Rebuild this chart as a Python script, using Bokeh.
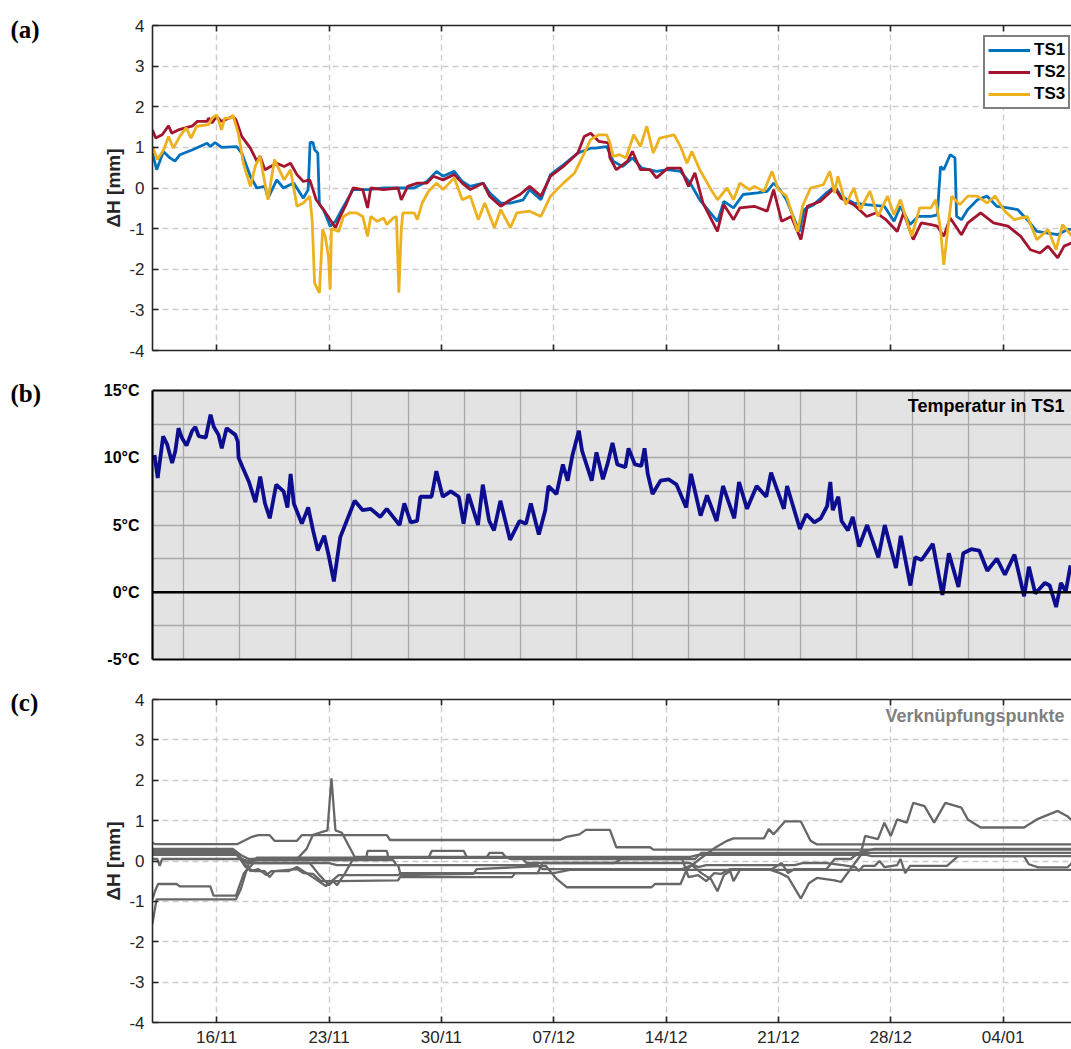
from datetime import datetime, timedelta

from bokeh.plotting import figure
from bokeh.layouts import column, row
from bokeh.core.properties import value
from bokeh.models import (Range1d, FixedTicker, DatetimeAxis, DatetimeTickFormatter,
                          CustomJSTickFormatter, PrintfTickFormatter, Span, Label)
from bokeh.embed import file_html
from bokeh.resources import INLINE

# ---------------------------------------------------------------------------
# Data: time in days after 12/11/2019 00:00, height changes in mm, temperature in °C
# ---------------------------------------------------------------------------
START = datetime(2019, 11, 12)
X_END_DAYS = 57.26

week_ticks = ["2019-11-16", "2019-11-23", "2019-11-30", "2019-12-07",
              "2019-12-14", "2019-12-21", "2019-12-28", "2020-01-04"]
dh_ticks = [-4, -3, -2, -1, 0, 1, 2, 3, 4]
temp_ticks = [-5, 0, 5, 10, 15]
temp_minor_ticks = [-2.5, 2.5, 7.5, 12.5]
temp_grid_days = [1.83 + 3.5 * k for k in range(16)]
panel_tags = ["(a)", "(b)", "(c)"]

ts1_days = [0, 0.26, 0.68, 1.09, 1.4, 1.71, 2.5, 3.4, 3.6, 3.9,
            4.3, 5.25, 5.56, 6.1, 6.5, 7.0, 7.2, 7.74, 8.16, 8.57,
            8.8, 9.4, 9.7, 9.82, 10.0, 10.1, 10.3, 10.4, 10.65, 11.07,
            11.4, 11.8, 12.5, 13.4, 14.4, 15.4, 16.3, 16.7, 17.1, 17.7,
            18.1, 18.8, 19.3, 19.8, 20.6, 21.0, 21.7, 22.3, 23.1, 23.5,
            24.2, 24.8, 25.6, 26.5, 27.3, 27.6, 28.3,
            28.7, 29.3, 29.9, 30.5, 31.4, 32.1, 32.9, 33.5, 34.1, 35.2,
            35.6, 36.2, 36.8, 37.7, 38.3, 38.7, 39.1, 39.5, 40.3, 40.6,
            41.2, 42.0, 42.5, 42.9, 43.7, 44.5, 45.6, 46.2, 46.6, 47.2,
            47.7, 48.5, 48.9, 49.1, 49.3, 49.7, 50.0, 50.1, 50.4, 50.8,
            51.4, 52.0, 52.6, 53.3, 53.9, 54.5, 55.1, 55.8, 56.4, 57.0,
            57.3]
ts1_dh = [0.86, 0.45, 0.9, 0.74, 0.66, 0.82, 0.94, 1.1, 1.02, 1.12,
          1.0, 1.02, 0.86, 0.29, 0.0, 0.04, -0.25, 0.2, 0.0, 0.08,
          0.12, -0.25, -0.04, 1.12, 1.12, 0.94, 0.86, -0.41, -0.53, -0.94,
          -0.82, -0.53, -0.04, -0.04, 0.0, 0.0, 0.0, 0.08, 0.16, 0.41,
          0.29, 0.41, 0.16, 0.04, 0.12, -0.12, -0.37, -0.37, -0.29, -0.04,
          -0.29, 0.33, 0.57, 0.86, 0.98, 0.98, 1.02,
          0.66, 0.53, 0.74, 0.49, 0.41, 0.45, 0.41, 0.12, -0.29, -0.82,
          -0.33, -0.49, -0.16, -0.12, -0.08, 0.12, -0.04, -0.29, -1.07, -0.53,
          -0.41, -0.12, 0.04, -0.2, -0.37, -0.41, -0.45, -0.82, -0.45, -0.9,
          -0.7, -0.7, -0.66, 0.53, 0.45, 0.82, 0.74, -0.7, -0.78, -0.53,
          -0.29, -0.2, -0.45, -0.49, -0.53, -0.78, -1.07, -1.11, -1.15, -1.02,
          -1.02]

ts2_days = [0, 0.2, 0.6, 1.0, 1.2, 1.6, 2.5, 2.8, 3.4, 3.5,
            3.7, 4.0, 4.3, 5.0, 5.2, 5.56, 6.1, 6.5, 6.7, 7.0,
            7.74, 8.2, 8.6, 9.0, 9.4, 9.8, 10.2, 10.65, 11.07, 11.4,
            11.7, 12.1, 12.5, 13.1, 13.4, 13.6, 14.4, 15.3, 15.5, 15.9,
            16.5, 17.1, 17.5, 18.1, 18.8, 19.3, 19.8, 20.6, 21.0, 21.7,
            22.3, 22.9, 23.5, 24.2, 24.8, 25.6, 26.5, 26.9, 27.3, 27.8,
            28.4,
            28.5, 28.9, 29.6, 29.9, 30.4, 31.0, 31.4, 32.1, 32.9, 33.4,
            33.8, 34.3, 35.2, 35.6, 36.2, 36.6, 37.5, 38.3, 38.7, 39.2,
            39.8, 40.4, 40.8, 41.6, 42.5, 42.9, 43.7, 44.5, 45.1, 45.7,
            46.4, 46.8, 47.4, 47.9, 48.5, 48.9, 49.3, 49.7, 50.4, 50.8,
            51.6, 52.4, 53.3, 54.1, 54.7, 55.3, 55.8, 56.4, 56.8, 57.3]
ts2_dh = [1.43, 1.23, 1.31, 1.53, 1.35, 1.43, 1.53, 1.64, 1.64, 1.72,
          1.6, 1.76, 1.64, 1.76, 1.68, 1.27, 0.98, 0.66, 0.78, 0.45,
          0.61, 0.53, 0.61, 0.33, 0.16, 0.2, -0.29, -0.53, -0.78, -0.98,
          -0.7, -0.37, 0.0, -0.04, -0.49, 0.0, -0.04, 0.0, -0.29, 0.04,
          0.12, 0.12, 0.29, 0.2, 0.33, 0.12, -0.04, 0.12, -0.2, -0.45,
          -0.29, -0.16, 0.04, -0.2, 0.29, 0.53, 0.86, 1.27, 1.35, 1.15,
          1.11,
          0.74, 0.45, 0.66, 0.9, 0.45, 0.45, 0.25, 0.49, 0.49, 0.04,
          0.37, -0.37, -1.07, -0.41, -0.78, -0.49, -0.45, -0.57, -0.04, -0.82,
          -0.7, -1.27, -0.45, -0.33, 0.0, -0.25, -0.41, -0.7, -0.61, -0.78,
          -1.07, -0.61, -1.27, -0.86, -0.9, -0.94, -1.19, -0.74, -1.15, -0.86,
          -0.61, -0.86, -0.94, -1.19, -1.52, -1.6, -1.43, -1.72, -1.43, -1.35]

ts3_days = [0, 0.3, 0.7, 1.0, 1.3, 1.7, 2.1, 2.4, 2.75, 3.5,
            3.7, 4.0, 4.3, 4.5, 4.9, 5.0, 5.35, 5.66, 6.1, 6.4,
            6.7, 7.0, 7.2, 7.6, 7.8, 8.2, 8.6, 9.0, 9.4, 9.8,
            9.95, 10.1, 10.4, 10.6, 10.76, 10.96, 11.07, 11.15, 11.6, 11.9,
            12.3, 12.7, 13.1, 13.4, 13.6, 14.0, 14.4, 14.6, 15.0, 15.2,
            15.35, 15.5, 15.6, 16.3, 16.5, 16.8, 17.2, 17.7, 18.1, 18.8,
            19.3, 19.8, 20.3, 20.7, 21.3, 21.7, 22.3, 22.7, 23.5, 24.2,
            24.8, 25.6, 26.3, 26.9, 27.3, 27.8, 28.3,
            28.5, 28.7, 29.1, 29.5, 29.98, 30.4, 30.8, 31.2, 31.6, 32.5,
            32.9, 33.3, 33.6, 34.1, 34.8, 35.2, 35.8, 36.2, 36.6, 37.2,
            37.5, 38.1, 38.6, 39.0, 39.5, 40.2, 40.5, 41.0, 41.8, 42.2,
            42.5, 42.7, 43.2, 43.7, 44.1, 44.7, 45.2, 45.8, 46.2, 46.6,
            47.3, 47.8, 48.5, 48.8, 49.1, 49.3, 49.6, 49.8, 50.3, 50.8,
            51.4, 52.0, 52.5, 53.1, 53.7, 54.5, 55.1, 55.8, 56.3, 56.7,
            57.3]
ts3_dh = [1.02, 0.7, 0.94, 1.27, 0.98, 1.27, 1.48, 1.23, 1.52, 1.56,
          1.72, 1.8, 1.43, 1.72, 1.72, 1.8, 1.35, 0.61, 0.04, 0.53,
          0.78, 0.12, -0.29, 0.7, 0.53, 0.2, 0.45, -0.45, -0.37, -0.2,
          -0.8, -2.34, -2.58, -1.02, -1.19, -1.68, -2.5, -1.0, -1.07, -0.7,
          -0.61, -0.61, -0.7, -1.19, -0.7, -0.82, -0.74, -0.9, -0.74, -0.7,
          -2.58, -1.02, -0.61, -0.61, -0.78, -0.37, -0.08, 0.12, -0.04, 0.25,
          -0.29, -0.2, -0.78, -0.37, -0.98, -0.53, -0.98, -0.61, -0.57, -0.7,
          -0.2, 0.12, 0.37, 0.86, 1.19, 1.31, 1.31,
          1.11, 0.78, 0.82, 0.74, 1.31, 1.02, 1.52, 0.86, 1.23, 1.31,
          1.02, 0.61, 0.9, 0.45, -0.04, -0.29, 0.0, -0.29, 0.12, -0.04,
          0.04, -0.08, 0.41, -0.04, -0.2, -1.07, -0.45, 0.0, 0.08, 0.41,
          -0.12, 0.29, -0.41, 0.0, -0.53, -0.08, -0.7, -0.2, -0.66, -0.29,
          -1.19, -0.49, -0.49, -0.29, -1.02, -1.89, -0.86, -0.2, -0.41, -0.2,
          -0.2, -0.37, -0.2, -0.57, -0.78, -0.7, -1.27, -1.02, -1.52, -0.9,
          -1.19]

temp_days = [0, 0.2, 0.54, 0.79, 1.1, 1.3, 1.5, 1.7, 2.0, 2.35,
             2.55, 2.76, 3.2, 3.5, 3.7, 4.0, 4.2, 4.5, 5.05, 5.2,
             5.25, 5.5, 5.9, 6.3, 6.6, 6.9, 7.2, 7.6, 8.06, 8.3,
             8.5, 8.7, 9.2, 9.6, 9.9, 10.2, 10.6, 10.9, 11.2, 11.6,
             12.0, 12.5, 13.0, 13.5, 14.1, 14.5, 14.9, 15.3, 15.6, 16.0,
             16.4, 16.6, 17.3, 17.6, 18.0, 18.5, 19.0, 19.3, 19.6, 20.2,
             20.5, 20.9, 21.2, 21.6, 22.2, 22.8, 23.2, 23.5, 24.0, 24.4,
             24.6, 25.1, 25.5, 25.8, 26.1, 26.5, 26.7, 27.3, 27.6, 28.0,
             28.3, 28.6, 28.9, 29.4, 29.6, 30.0, 30.4, 30.6, 30.8, 31.1,
             31.6, 32.1, 32.6, 33.2, 33.5, 34.1, 34.5, 35.1, 35.5, 36.2,
             36.5, 37.0, 37.6, 38.2, 38.5, 39.3, 39.5, 40.3, 40.7, 41.2,
             41.6, 42.0, 42.2, 42.35, 42.7, 42.9, 43.3, 43.6, 44.0, 44.5,
             45.2, 45.6, 46.3, 46.6, 47.2, 47.5, 47.9, 48.6, 49.2, 49.6,
             50.2, 50.5, 51.0, 51.5, 52.0, 52.6, 53.1, 53.7, 54.3, 54.6,
             55.0, 55.6, 55.9, 56.3, 56.6, 56.9, 57.2]
temp_c = [10.2, 8.5, 11.6, 11.0, 9.6, 10.5, 12.2, 11.5, 10.9, 12.0,
          12.3, 11.6, 11.5, 13.2, 12.3, 11.7, 10.7, 12.2, 11.7, 11.2,
          10.0, 9.3, 8.2, 6.7, 8.6, 6.6, 5.5, 8.0, 7.5, 6.3,
          8.8, 6.6, 5.1, 6.3, 4.6, 3.1, 4.2, 2.6, 0.8, 4.1,
          5.3, 6.8, 6.1, 6.2, 5.6, 6.2, 5.6, 5.0, 6.6, 5.2,
          5.3, 7.1, 7.1, 9.0, 7.1, 7.5, 7.1, 5.1, 7.3, 5.0,
          8.0, 5.3, 4.6, 6.8, 3.9, 5.3, 5.1, 6.6, 4.3, 6.1,
          7.9, 7.3, 9.5, 8.3, 10.2, 12.0, 10.5, 8.3, 10.4, 8.4,
          9.6, 11.1, 9.5, 9.3, 10.7, 9.5, 9.4, 10.7, 8.8, 7.3,
          8.3, 8.4, 8.0, 6.3, 8.8, 5.7, 7.2, 5.3, 7.9, 5.5,
          8.2, 6.2, 7.9, 7.1, 8.9, 6.2, 7.9, 4.7, 5.8, 5.2,
          5.5, 6.4, 8.2, 6.1, 7.1, 5.3, 4.6, 5.6, 3.4, 5.0,
          2.6, 5.0, 1.8, 4.2, 0.5, 2.6, 2.4, 3.6, -0.2, 2.9,
          0.4, 2.9, 3.2, 3.1, 1.6, 2.5, 1.3, 2.8, -0.3, 1.9,
          -0.1, 0.7, 0.5, -1.1, 0.7, 0.05, 2.0]

# Tie points (Verknüpfungspunkte): one (days, dh) pair per point
tp1_days = [0, 0.15, 5.3, 5.7, 6.2, 6.6, 7.3, 7.6, 9.0, 9.3, 14.6, 14.8, 25.4, 25.8,
            26.6, 27.0, 28.5, 28.9, 31.0, 31.2, 57.3]
tp1_dh = [0.45, 0.42, 0.42, 0.5, 0.6, 0.64, 0.64, 0.5, 0.5, 0.64, 0.64, 0.52, 0.52, 0.6,
          0.66, 0.77, 0.77, 0.34, 0.34, 0.28, 0.28]
tp2_days = [0, 5.0, 5.5, 6.0, 9.0, 9.6, 10.0, 10.9, 11.15, 11.4, 11.8, 12.6, 22.0, 22.3,
            33.8, 34.2, 57.3]
tp2_dh = [0.3, 0.3, 0.15, 0.05, 0.05, 0.3, 0.65, 0.76, 2.05, 0.76, 0.7, 0.1, 0.1, 0.05,
          0.05, 0.2, 0.2]
tp3_days = [0, 0.25, 5.2, 5.5, 6.0, 6.5, 20.8, 21.0, 21.8, 22.0, 33.5, 34.0, 44.5, 44.8, 57.3]
tp3_dh = [-1.55, -0.95, -0.95, -0.7, -0.05, 0.08, 0.08, 0.2, 0.2, 0.1, 0.1, 0.15, 0.15,
          0.12, 0.12]
tp4_days = [0, 0.15, 0.35, 1.5, 1.7, 3.6, 3.8, 5.2, 5.7, 6.3, 9.8, 10.4, 11.0, 11.25,
            11.5, 12.0, 12.5, 13.3, 13.4, 14.6, 14.7, 17.2, 17.4, 19.4, 19.6, 23.0, 23.3,
            33.5, 34.0, 34.5, 40.0, 40.5, 42.0, 43.0, 43.8, 44.0, 44.3, 45.0, 45.3, 45.6,
            46.4, 46.6, 46.9, 47.2, 49.5, 50.2, 54.3, 54.6, 55.2, 57.0, 57.3]
tp4_dh = [-0.95, -0.75, -0.57, -0.57, -0.63, -0.63, -0.86, -0.86, -0.3, -0.05, -0.05,
          -0.35, -0.6, -0.5, -0.6, -0.3, 0.05, 0.05, 0.25, 0.25, 0.08, 0.08, 0.25, 0.25,
          0.08, 0.08, -0.05, -0.05, -0.15, -0.1, -0.1, -0.05, -0.05, -0.1, -0.15, -0.25,
          -0.12, -0.12, 0.0, -0.15, -0.1, 0.05, -0.3, -0.12, -0.12, 0.12, 0.12, -0.08,
          -0.16, -0.16, -0.04]
tp5_days = [0, 5.2, 5.8, 6.3, 7.0, 7.3, 7.6, 9.0, 9.4, 10.0, 10.5, 11.5, 15.3, 15.5,
            20.0, 20.2, 24.5, 25.2, 25.8, 31.1, 31.3, 32.9, 33.3, 34.1, 35.1, 35.8, 36.2,
            38.1, 38.4, 38.7, 39.4, 40.4, 41.0, 41.4, 57.3]
tp5_dh = [0.2, 0.2, -0.15, -0.25, -0.25, -0.4, -0.25, -0.2, -0.3, -0.32, -0.5, -0.5,
          -0.48, -0.35, -0.32, -0.2, -0.12, -0.45, -0.65, -0.65, -0.57, -0.57, -0.2, 0.05,
          0.34, 0.5, 0.56, 0.56, 0.79, 0.66, 0.98, 0.98, 0.5, 0.41, 0.41]
tp6_days = [0, 0.3, 0.45, 0.6, 5.5, 6.0, 6.5, 15.0, 15.2, 24.0, 24.3, 33.0, 33.6, 34.2,
            34.8, 35.2, 35.6, 36.0, 36.2, 36.6, 38.5, 39.1, 39.6, 40.4, 40.9, 41.4, 42.5,
            42.9, 44.1, 44.4, 45.2, 45.6, 46.0, 46.4, 47.0, 47.4, 48.1, 48.7, 49.4, 50.4,
            50.8, 51.6, 54.3, 55.1, 56.4, 57.0, 57.3]
tp6_dh = [0.05, 0.05, -0.12, 0.05, 0.05, 0.0, 0.02, 0.02, -0.1, -0.1, -0.2, -0.2, -0.1,
          -0.3, -0.45, -0.75, -0.35, -0.25, -0.5, -0.22, -0.22, -0.3, -0.4, -0.93, -0.55,
          -0.42, -0.48, -0.52, 0.13, 0.62, 0.54, 0.95, 0.62, 1.03, 0.95, 1.44, 1.36, 0.95,
          1.44, 1.32, 1.03, 0.83, 0.83, 1.03, 1.24, 1.11, 1.0]
tp7_days = [0, 5.3, 5.9, 6.4, 11.0, 11.5, 15.3, 15.5, 22.4, 22.6, 25.0, 26.0, 57.3]
tp7_dh = [0.15, 0.15, -0.05, -0.05, -0.05, -0.1, -0.1, -0.4, -0.4, -0.3, -0.3, -0.22, -0.22]
tp8_days = [0, 5.0, 5.6, 6.1, 6.6, 7.1, 7.4, 8.5, 9.0, 9.6, 10.8, 11.6, 15.3, 15.5, 24.0,
            24.3, 28.8, 29.2, 33.0, 33.4, 34.0, 34.5, 35.0, 35.4, 36.0, 38.6, 39.2, 39.6,
            40.0, 42.0, 42.5, 43.5, 44.0, 45.0, 57.3]
tp8_dh = [0.25, 0.25, 0.0, -0.25, -0.2, -0.35, -0.25, -0.25, -0.15, -0.3, -0.62, -0.35,
          -0.35, -0.3, -0.3, -0.05, -0.05, 0.05, 0.05, -0.4, -0.35, -0.5, -0.3, -0.32,
          -0.2, -0.2, -0.05, -0.3, -0.2, -0.2, 0.05, 0.05, 0.2, 0.3, 0.3]

tie_points = [(tp1_days, tp1_dh), (tp2_days, tp2_dh), (tp3_days, tp3_dh), (tp4_days, tp4_dh),
              (tp5_days, tp5_dh), (tp6_days, tp6_dh), (tp7_days, tp7_dh), (tp8_days, tp8_dh)]


# ---------------------------------------------------------------------------
# Helpers
# ---------------------------------------------------------------------------
def to_dates(days):
    return [START + timedelta(days=d) for d in days]


def to_ms(d):
    return (d - datetime(1970, 1, 1)).total_seconds() * 1000.0


week_ms = [to_ms(datetime.strptime(s, "%Y-%m-%d")) for s in week_ticks]
temp_grid_ms = [to_ms(START + timedelta(days=d)) for d in temp_grid_days]

SANS = "Liberation Sans"
SERIF = "Liberation Serif"
AXIS_COLOR = "#262626"
GRID_COLOR = "#cccccc"
TAG_W = 60
PANEL_H = [370, 310, 369]
TOTAL_H = sum(PANEL_H)
date_fmt = DatetimeTickFormatter(days="%d/%m", months="%d/%m", years="%d/%m",
                                 hours="%d/%m", minutes="%d/%m")
blank_fmt = CustomJSTickFormatter(code="return ''")


def style_dh_panel(p, show_dates):
    p.outline_line_color = None
    p.y_range = Range1d(-4, 4)
    # left axis
    ya = p.yaxis[0]
    ya.ticker = FixedTicker(ticks=dh_ticks)
    ya.formatter = PrintfTickFormatter(format="%d")
    ya.major_tick_in = 6
    ya.major_tick_out = 0
    ya.minor_tick_line_color = None
    ya.axis_line_width = 1.6
    ya.axis_line_color = AXIS_COLOR
    ya.major_tick_line_color = AXIS_COLOR
    ya.major_tick_line_width = 1.6
    ya.major_label_text_font = SANS
    ya.major_label_text_font_size = "17px"
    ya.major_label_text_color = AXIS_COLOR
    ya.major_label_standoff = 8
    ya.axis_label = "ΔH [mm]"
    ya.axis_label_text_font = SANS
    ya.axis_label_text_font_style = "bold"
    ya.axis_label_text_font_size = "19px"
    ya.axis_label_text_color = AXIS_COLOR
    ya.axis_label_standoff = 2
    # bottom axis
    xa = p.xaxis[0]
    xa.ticker = FixedTicker(ticks=week_ms)
    xa.formatter = date_fmt if show_dates else blank_fmt
    xa.major_tick_in = 6
    xa.major_tick_out = 0
    xa.minor_tick_line_color = None
    xa.axis_line_width = 1.6
    xa.axis_line_color = AXIS_COLOR
    xa.major_tick_line_color = AXIS_COLOR
    xa.major_tick_line_width = 1.6
    xa.major_label_text_font = SANS
    xa.major_label_text_font_size = "17px"
    xa.major_label_text_color = AXIS_COLOR
    xa.major_label_standoff = 5
    # top border with inward ticks
    top = DatetimeAxis(ticker=FixedTicker(ticks=week_ms), formatter=blank_fmt,
                       major_tick_in=6, major_tick_out=0,
                       minor_tick_line_color=None, axis_line_width=1.6,
                       axis_line_color=AXIS_COLOR, major_tick_line_color=AXIS_COLOR,
                       major_tick_line_width=1.6, major_label_text_font_size="1px")
    p.add_layout(top, "above")
    # dashed grid
    for g in (p.xgrid[0], p.ygrid[0]):
        g.grid_line_color = GRID_COLOR
        g.grid_line_dash = "6 4"
        g.grid_line_width = 1.4


x_start = START
x_end = START + timedelta(days=X_END_DAYS)

# ---------------------------------------------------------------------------
# Strip on the left carrying the panel letters (y measured in px from the top)
# ---------------------------------------------------------------------------
tags = figure(width=TAG_W, height=TOTAL_H, x_range=Range1d(0, TAG_W),
              y_range=Range1d(TOTAL_H, 0), output_backend="svg", toolbar_location=None,
              x_axis_location=None, y_axis_location=None, title_location=None,
              min_border=0, outline_line_color=None)
tags.grid.visible = False
tags.text(x=[10, 10, 10], y=[29, 393, 702], text=panel_tags, text_font=value(SERIF),
          text_font_style="bold", text_font_size="25px", text_baseline="middle",
          text_color="black")

# ---------------------------------------------------------------------------
# (a) height changes of the three settlement points
# ---------------------------------------------------------------------------
pa = figure(width=1071 - TAG_W, height=PANEL_H[0], x_axis_type="datetime",
            x_range=Range1d(x_start, x_end), output_backend="svg",
            toolbar_location=None, min_border_left=152 - TAG_W, min_border_right=0,
            min_border_top=25, min_border_bottom=20)
style_dh_panel(pa, show_dates=False)

pa.line(to_dates(ts1_days), ts1_dh, line_color="#0072BD", line_width=2.8, legend_label="TS1")
pa.line(to_dates(ts2_days), ts2_dh, line_color="#A2142F", line_width=2.8, legend_label="TS2")
pa.line(to_dates(ts3_days), ts3_dh, line_color="#EDB120", line_width=2.8, legend_label="TS3")

leg = pa.legend[0]
leg.location = (831, 241)
leg.border_line_color = "black"
leg.border_line_width = 2
leg.background_fill_color = "white"
leg.background_fill_alpha = 1.0
leg.label_text_font = SANS
leg.label_text_font_style = "bold"
leg.label_text_font_size = "17px"
leg.label_text_color = "black"
leg.glyph_width = 42
leg.glyph_height = 20
leg.label_height = 20
leg.label_standoff = 4
leg.padding = 3
leg.spacing = 2
leg.margin = 0

# ---------------------------------------------------------------------------
# (b) temperature inside TS1
# ---------------------------------------------------------------------------
pb = figure(width=1071 - TAG_W, height=PANEL_H[1], x_axis_type="datetime",
            x_range=Range1d(START - timedelta(days=0.125), x_end),
            y_range=Range1d(-5, 15), output_backend="svg",
            toolbar_location=None, min_border_left=150 - TAG_W, min_border_right=0,
            min_border_top=20, min_border_bottom=21)
pb.background_fill_color = "#e3e3e3"
pb.outline_line_color = None

yb = pb.yaxis[0]
yb.ticker = FixedTicker(ticks=temp_ticks, minor_ticks=temp_minor_ticks)
yb.formatter = PrintfTickFormatter(format="%d°C")
yb.major_tick_line_color = None
yb.minor_tick_line_color = None
yb.axis_line_color = "black"
yb.axis_line_width = 2.2
yb.major_label_text_font = SANS
yb.major_label_text_font_style = "bold"
yb.major_label_text_font_size = "16px"
yb.major_label_text_color = "black"
yb.major_label_standoff = 7

xb = pb.xaxis[0]
xb.ticker = FixedTicker(ticks=[])
xb.major_tick_line_color = None
xb.minor_tick_line_color = None
xb.axis_line_color = "black"
xb.axis_line_width = 2.2
topb = DatetimeAxis(ticker=FixedTicker(ticks=[]), major_tick_line_color=None,
                    minor_tick_line_color=None, axis_line_color="black", axis_line_width=2.2)
pb.add_layout(topb, "above")

pb.xgrid[0].ticker = FixedTicker(ticks=temp_grid_ms)
for g in (pb.xgrid[0], pb.ygrid[0]):
    g.grid_line_color = "#a8a8a8"
    g.grid_line_width = 1.3
pb.ygrid[0].minor_grid_line_color = "#a8a8a8"
pb.ygrid[0].minor_grid_line_width = 1.3

pb.add_layout(Span(location=0, dimension="width", line_color="black", line_width=2.6))
pb.line(to_dates(temp_days), temp_c, line_color="#0d0d8f", line_width=3.8)

pb.add_layout(Label(x=912, y=254, x_units="screen", y_units="screen",
                    text="Temperatur in TS1", text_align="right", text_baseline="middle",
                    text_font=SANS, text_font_style="bold", text_font_size="18px",
                    text_color="black"))

# ---------------------------------------------------------------------------
# (c) tie points
# ---------------------------------------------------------------------------
pc = figure(width=1071 - TAG_W, height=PANEL_H[2], x_axis_type="datetime",
            x_range=Range1d(x_start, x_end), output_backend="svg",
            toolbar_location=None, min_border_left=152 - TAG_W, min_border_right=0,
            min_border_top=19, min_border_bottom=24)
style_dh_panel(pc, show_dates=True)

for days, dh in tie_points:
    pc.line(to_dates(days), dh, line_color="#676767", line_width=2.3)

pc.add_layout(Label(x=912, y=307, x_units="screen", y_units="screen",
                    text="Verknüpfungspunkte", text_align="right", text_baseline="middle",
                    text_font=SANS, text_font_style="bold", text_font_size="18px",
                    text_color="#808080"))

layout = row(tags, column(pa, pb, pc, spacing=0), spacing=0)
open("out.html", "w").write(file_html(layout, INLINE))
